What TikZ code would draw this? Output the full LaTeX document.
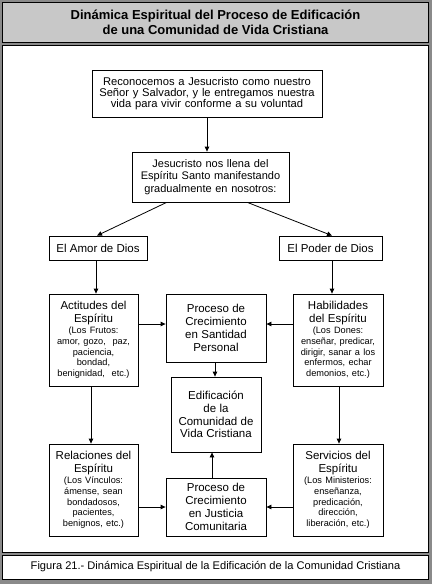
\documentclass[tikz,border=0pt]{standalone}
\usepackage{fontspec}
\setmainfont{Liberation Sans}
\usetikzlibrary{arrows.meta,calc}
\definecolor{framegray}{RGB}{138,138,138}
\definecolor{titlegray}{RGB}{200,200,200}
\setlength{\parindent}{0pt}
\newcommand{\bigtxt}{\fontsize{11.5}{12.8}\selectfont\lineskiplimit=-20pt\parindent=0pt}
\newcommand{\smalltxt}{\fontsize{9.2}{10.9}\selectfont\lineskiplimit=-20pt\parindent=0pt}
\begin{document}
\begin{tikzpicture}[x=1pt,y=-1pt,
  box/.style={draw=black,line width=0.8pt,inner sep=0pt,align=center,fill=white},
  panel/.style={draw=black,line width=0.8pt,inner sep=0pt,align=center},
  arr/.style={-{Triangle[length=5pt,width=4.5pt]},line width=0.8pt}]
\useasboundingbox (0,0) rectangle (432,584);
\fill[framegray] (0,0) rectangle (432,584);
% panels
\node[panel,fill=titlegray,minimum width=426pt,minimum height=39.5pt,
  font={\fontsize{13}{15}\selectfont\bfseries\lineskiplimit=-20pt}] (titlepanel) at (215.5,22.25)
  {Dinámica Espiritual del Proceso de Edificación\\de una Comunidad de Vida Cristiana};
\draw[fill=white,line width=0.8pt] (2.5,45) rectangle (428.5,552);
\node[panel,fill=white,minimum width=426pt,minimum height=24pt,
  font={\fontsize{11.1}{13}\selectfont}] (cappanel) at (215.5,567)
  {Figura 21.- Dinámica Espiritual de la Edificación de la Comunidad Cristiana};
% boxes
\node[box,minimum width=230pt,minimum height=47pt,text width=226pt,
  font={\fontsize{11.2}{10.7}\selectfont\lineskiplimit=-20pt\parindent=0pt}] (b1) at (207,93.5)
  {Reconocemos a Jesucristo como nuestro\\Señor y Salvador, y le entregamos nuestra\\vida para vivir conforme a su voluntad};
\node[box,minimum width=157pt,minimum height=50pt,text width=153pt,
  font={\fontsize{11}{12.5}\selectfont\lineskiplimit=-20pt\parindent=0pt}] (b2) at (210.5,177)
  {Jesucristo nos llena del\\Espíritu Santo manifestando\\gradualmente en nosotros:};
\node[box,minimum width=98pt,minimum height=24pt,font=\bigtxt] (amor) at (98,248) {El Amor de Dios};
\node[box,minimum width=103pt,minimum height=24pt,font=\bigtxt] (poder) at (330.5,248) {El Poder de Dios};
\node[box,minimum width=89pt,minimum height=92pt,text width=87pt] (act) at (93.5,340)
  {{\bigtxt Actitudes del\\Espíritu\par}{\smalltxt (Los Frutos:\\amor, gozo,~ paz,\\paciencia,\\bondad,\\benignidad,~ etc.)\par}};
\node[box,minimum width=100pt,minimum height=68pt,text width=96pt] (procS) at (216,328)
  {{\bigtxt Proceso de\\Crecimiento\\en Santidad\\Personal\par}};
\node[box,minimum width=90pt,minimum height=92pt,text width=88pt] (hab) at (338,340)
  {{\bigtxt Habilidades\\del Espíritu\par}{\smalltxt (Los Dones:\\enseñar, predicar,\\dirigir, sanar a los\\enfermos, echar\\demonios, etc.)\par}};
\node[box,minimum width=90pt,minimum height=75pt,text width=88pt] (edif) at (216,414.5)
  {{\bigtxt Edificación\\de la\\Comunidad de\\Vida Cristiana\par}};
\node[box,minimum width=89pt,minimum height=92pt,text width=87pt] (rel) at (93.5,490)
  {{\bigtxt Relaciones del\\Espíritu\par}{\smalltxt (Los Vínculos:\\ámense, sean\\bondadosos,\\pacientes,\\benignos, etc.)\par}};
\node[box,minimum width=100pt,minimum height=58pt,text width=96pt] (procJ) at (216,507)
  {{\bigtxt Proceso de\\Crecimiento\\en Justicia\\Comunitaria\par}};
\node[box,minimum width=90pt,minimum height=92pt,text width=88pt] (serv) at (338,490)
  {{\bigtxt Servicios del\\Espíritu\par}{\smalltxt (Los Ministerios:\\enseñanza,\\predicación,\\dirección,\\liberación, etc.)\par}};
% connectors
\draw[arr] (b1.south) -- (b1.south |- b2.north);
\draw[arr] ($(b2.south west)+(35,0)$) -- ($(amor.north)+(-1,0)$);
\draw[arr] ($(b2.south east)+(-42,0)$) -- ($(poder.north)+(1.5,0)$);
\draw[arr] ($(amor.south)+(-2,0)$) -- ($(amor.south |- act.north)+(-2,0)$);
\draw[arr] ($(poder.south)+(1.5,0)$) -- ($(poder.south |- hab.north)+(1.5,0)$);
\draw[arr] ($(procS.west -| act.east)+(0,-4)$) -- ($(procS.west)+(0,-4)$);
\draw[arr] ($(procS.east -| hab.west)+(0,-4)$) -- ($(procS.east)+(0,-4)$);
\draw[arr] ($(procS.south)+(-1,0)$) -- ($(procS.south |- edif.north)+(-1,0)$);
\draw[arr] ($(act.south)+(-2.5,0)$) -- ($(act.south |- rel.north)+(-2.5,0)$);
\draw[arr] ($(hab.south)+(1,0)$) -- ($(hab.south |- serv.north)+(1,0)$);
\draw[arr] ($(procJ.north)+(-4,0)$) -- ($(procJ.north |- edif.south)+(-4,0)$);
\draw[arr] (rel.east |- procJ.west) -- (procJ.west);
\draw[arr] (serv.west |- procJ.east) -- (procJ.east);
\end{tikzpicture}
\end{document}
